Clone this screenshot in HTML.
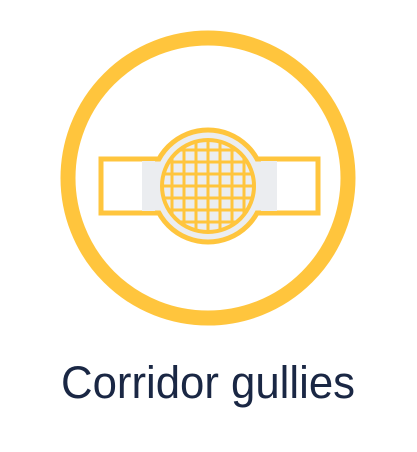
<!DOCTYPE html>
<html><head><meta charset="utf-8"><style>
body{margin:0;background:#fff;width:417px;height:452px;overflow:hidden}
svg{display:block}
</style></head><body>
<svg width="417" height="452" viewBox="0 0 417 452">
<defs><clipPath id="gc"><circle cx="208" cy="186" r="45"/></clipPath></defs>
<circle cx="208" cy="178" r="140" fill="none" stroke="#FFC53D" stroke-width="15"/>
<rect x="101" y="159" width="217" height="54" fill="#fff" stroke="#FFC53D" stroke-width="5"/>
<rect x="142" y="161" width="135" height="50" fill="#EBEDF0"/>
<circle cx="208" cy="186" r="56" fill="#EBEDF0" stroke="#FFC53D" stroke-width="5"/>
<rect x="142" y="161.5" width="135" height="49" fill="#EBEDF0"/>
<circle cx="208" cy="186" r="46" fill="#EBEDF0" stroke="#FFC53D" stroke-width="4"/>
<g clip-path="url(#gc)" stroke="#FFC53D" stroke-width="3">
<line x1="172" y1="130" x2="172" y2="240"/><line x1="184" y1="130" x2="184" y2="240"/><line x1="196" y1="130" x2="196" y2="240"/><line x1="208" y1="130" x2="208" y2="240"/><line x1="220" y1="130" x2="220" y2="240"/><line x1="232" y1="130" x2="232" y2="240"/><line x1="244" y1="130" x2="244" y2="240"/>
<line x1="150" y1="150" x2="270" y2="150"/><line x1="150" y1="162" x2="270" y2="162"/><line x1="150" y1="174" x2="270" y2="174"/><line x1="150" y1="186" x2="270" y2="186"/><line x1="150" y1="198" x2="270" y2="198"/><line x1="150" y1="210" x2="270" y2="210"/><line x1="150" y1="222" x2="270" y2="222"/>
</g>
<text x="61" y="398" textLength="294" lengthAdjust="spacingAndGlyphs" font-family="Liberation Sans, sans-serif" font-size="45" fill="#1A2744">Corridor gullies</text>
</svg>
</body></html>
